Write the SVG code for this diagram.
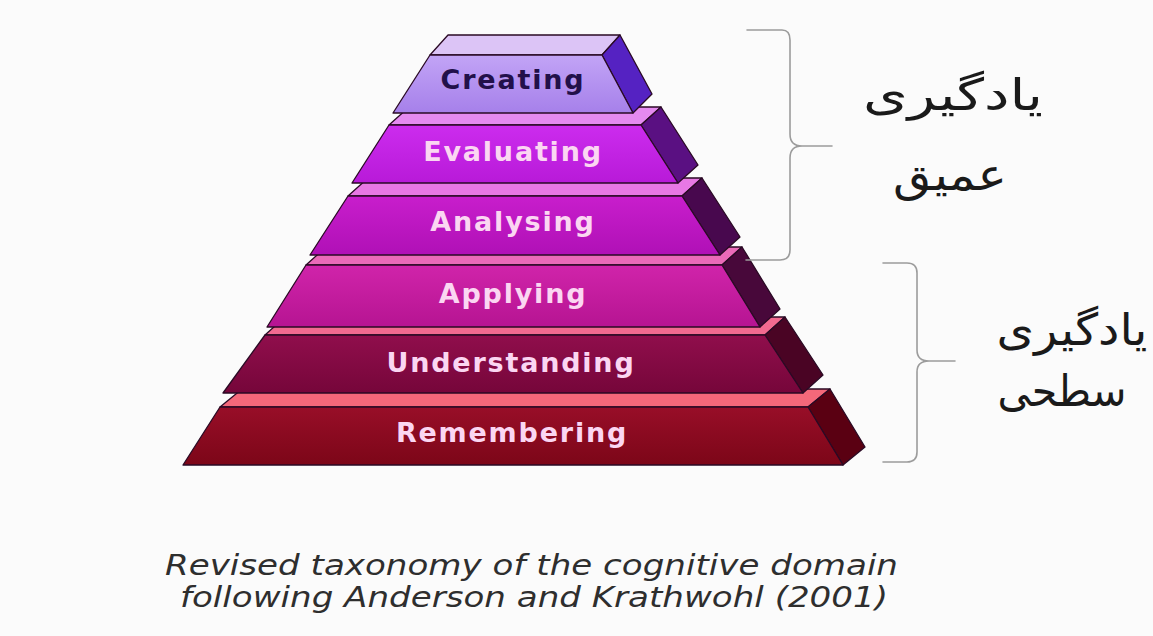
<svg xmlns="http://www.w3.org/2000/svg" width="1153" height="636" viewBox="0 0 1153 636">
<defs>
<style>
.lbl{font-family:"DejaVu Sans","Liberation Sans",sans-serif;font-weight:bold;font-size:27px;letter-spacing:1.8px;text-anchor:middle}
.lt{fill:#fbd6f2}
.edge{stroke:#2a0a24;stroke-width:1.3;stroke-linejoin:round}
.brace{fill:none;stroke:#9c9c9c;stroke-width:1.6;stroke-linecap:round}
.fa{font-family:"DejaVu Sans",sans-serif;font-size:44px;fill:#1a1a1a;text-anchor:middle}
.cap{font-family:"DejaVu Sans","Liberation Sans",sans-serif;font-style:italic;font-size:28px;fill:#2e2e2e}
</style>
<linearGradient id="gC" x1="0" y1="0" x2="0" y2="1"><stop offset="0" stop-color="#c2a4f6"/><stop offset="1" stop-color="#a680ea"/></linearGradient>
<linearGradient id="gE" x1="0" y1="0" x2="0" y2="1"><stop offset="0" stop-color="#cc2cee"/><stop offset="1" stop-color="#b81ad8"/></linearGradient>
<linearGradient id="gA" x1="0" y1="0" x2="0" y2="1"><stop offset="0" stop-color="#c81ecc"/><stop offset="1" stop-color="#b010b6"/></linearGradient>
<linearGradient id="gP" x1="0" y1="0" x2="0" y2="1"><stop offset="0" stop-color="#d024aa"/><stop offset="1" stop-color="#b61492"/></linearGradient>
<linearGradient id="gU" x1="0" y1="0" x2="0" y2="1"><stop offset="0" stop-color="#900e4c"/><stop offset="1" stop-color="#76063a"/></linearGradient>
<linearGradient id="gR" x1="0" y1="0" x2="0" y2="1"><stop offset="0" stop-color="#980e28"/><stop offset="1" stop-color="#7c0618"/></linearGradient>
</defs>
<rect width="1153" height="636" fill="#fbfbfb"/>

<g id="layer-remembering">
<polygon class="edge" fill="#f4687a" points="220,407 242,389 830,389 808,407"/>
<polygon class="edge" fill="#5a0012" points="808,407 830,389 865,447 843,465"/>
<polygon class="edge" fill="url(#gR)" points="220,407 808,407 843,465 183,465"/>
<text class="lbl lt" x="512" y="442">Remembering</text>
</g>

<g id="layer-understanding">
<polygon class="edge" fill="#f26a90" points="265,335 285,317 785,317 765,335"/>
<polygon class="edge" fill="#4a0424" points="765,335 785,317 823,375 803,393"/>
<polygon class="edge" fill="url(#gU)" points="265,335 765,335 803,393 223,393"/>
<text class="lbl lt" x="511" y="372">Understanding</text>
</g>

<g id="layer-applying">
<polygon class="edge" fill="#ea6ab8" points="306,265 326,247 742,247 722,265"/>
<polygon class="edge" fill="#48083a" points="722,265 742,247 780,309 760,327"/>
<polygon class="edge" fill="url(#gP)" points="306,265 722,265 760,327 267,327"/>
<text class="lbl lt" x="513" y="303">Applying</text>
</g>

<g id="layer-analysing">
<polygon class="edge" fill="#e878e4" points="348,196 368,178 702,178 682,196"/>
<polygon class="edge" fill="#48084e" points="682,196 702,178 740,237 720,255"/>
<polygon class="edge" fill="url(#gA)" points="348,196 682,196 720,255 310,255"/>
<text class="lbl lt" x="513" y="231">Analysing</text>
</g>

<g id="layer-evaluating">
<polygon class="edge" fill="#e58af0" points="389,125 409,107 661,107 641,125"/>
<polygon class="edge" fill="#5a1082" points="641,125 661,107 698,165 678,183"/>
<polygon class="edge" fill="url(#gE)" points="389,125 641,125 678,183 352,183"/>
<text class="lbl lt" x="513" y="161">Evaluating</text>
</g>

<g id="layer-creating">
<polygon class="edge" fill="#dcc4f6" points="430,55 448,35 620,35 602,55"/>
<polygon class="edge" fill="#5522c2" points="602,55 620,35 652,94 633,113"/>
<polygon class="edge" fill="url(#gC)" points="430,55 602,55 633,113 393,113"/>
<text class="lbl" fill="#22104a" x="513" y="89">Creating</text>
</g>

<g id="connectors">
<path class="brace" d="M747,30 H782 Q790,30 790,40 V134 Q790,146 802,146 H832 M802,146 Q790,146 790,158 V250 Q790,260 780,260 H746"/>
<path class="brace" d="M883,263 H907 Q917,263 917,273 V350 Q917,361 929,361 H955 M929,361 Q917,361 917,372 V452 Q917,462 907,462 H883"/>
</g>

<g id="label-deep">
<text class="fa" x="953" y="110" textLength="180" lengthAdjust="spacingAndGlyphs">یادگیری</text>
<text class="fa" x="950" y="190" textLength="114" lengthAdjust="spacingAndGlyphs">عمیق</text>
</g>
<g id="label-surface">
<text class="fa" x="1072" y="345" textLength="151" lengthAdjust="spacingAndGlyphs">یادگیری</text>
<text class="fa" x="1062" y="406" textLength="129" lengthAdjust="spacingAndGlyphs">سطحی</text>
</g>

<g id="caption">
<text class="cap" x="165" y="575" textLength="733" lengthAdjust="spacingAndGlyphs">Revised taxonomy of the cognitive domain</text>
<text class="cap" x="180" y="607" textLength="708" lengthAdjust="spacingAndGlyphs">following Anderson and Krathwohl (2001)</text>
</g>
</svg>
